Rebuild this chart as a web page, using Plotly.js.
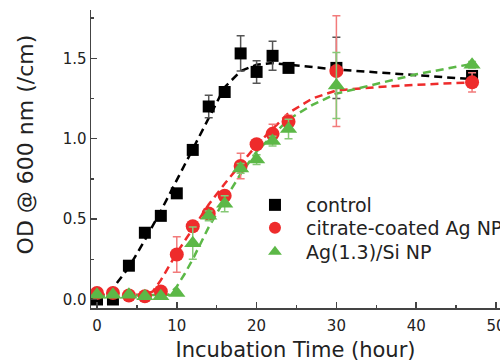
<!DOCTYPE html>
<html>
<head>
<meta charset="utf-8">
<script src="https://cdn.plot.ly/plotly-3.0.1.min.js"></script>
<style>html,body{margin:0;padding:0;background:#fff;}#chart{width:500px;height:362px;}</style>
</head>
<body>
<div id="chart"></div>
<script>
// Measured time points (hours)
const timeHours = [0, 2, 4, 6, 8, 10, 12, 14, 16, 18, 20, 22, 24, 30, 47];
// OD values
const controlOD = [0.0, 0.0, 0.21, 0.415, 0.52, 0.66, 0.93, 1.20, 1.29, 1.53, 1.415, 1.515, 1.44, 1.44, 1.39];
const controlErr = [0, 0, 0, 0, 0, 0, 0, 0.07, 0, 0.11, 0.07, 0.09, 0.02, 0.19, 0.03];
const citrateOD = [0.04, 0.04, 0.025, 0.02, 0.05, 0.28, 0.455, 0.535, 0.645, 0.83, 0.965, 1.03, 1.105, 1.42, 1.35];
const citrateErr = [0.02, 0.02, 0.02, 0.01, 0.02, 0.11, 0, 0.02, 0.02, 0.08, 0.02, 0.06, 0.04, 0.345, 0.06];
const agsiOD = [0.03, 0.03, 0.03, 0.02, 0.02, 0.04, 0.35, 0.52, 0.595, 0.815, 0.87, 0.985, 1.06, 1.33, 1.46];
const agsiErr = [0.01, 0.01, 0.01, 0.01, 0.01, 0.01, 0.1, 0.03, 0.05, 0.03, 0.03, 0.03, 0.06, 0.205, 0.02];

// Dashed fit curves
const controlFitX = [0, 2, 4, 6, 8, 10, 12, 14, 16, 18, 20, 22, 24, 30, 47];
const controlFitY = [0.0, 0.07, 0.2, 0.37, 0.55, 0.74, 0.93, 1.13, 1.32, 1.42, 1.46, 1.47, 1.46, 1.43, 1.37];
const citrateFitX = [0, 6, 7, 8, 10, 12, 14, 16, 18, 20, 22, 24, 27, 30, 35, 40, 47];
const citrateFitY = [0.03, 0.03, 0.05, 0.12, 0.29, 0.44, 0.59, 0.72, 0.84, 0.96, 1.06, 1.16, 1.25, 1.30, 1.32, 1.335, 1.35];
const agsiFitX = [0, 9, 10, 11, 12, 14, 16, 18, 20, 22, 24, 27, 30, 35, 40, 47];
const agsiFitY = [0.02, 0.03, 0.08, 0.16, 0.25, 0.45, 0.62, 0.78, 0.92, 1.02, 1.12, 1.21, 1.28, 1.34, 1.40, 1.465];

const seriesNames = ['control', 'citrate-coated Ag NP', 'Ag(1.3)/Si NP'];
const xTickVals = [0, 10, 20, 30, 40, 50];
const yTickVals = [0.0, 0.5, 1.0, 1.5];
const xTitle = 'Incubation Time (hour)';
const yTitle = 'OD @ 600 nm (/cm)';

const BLACK = '#000000', RED = '#ee2b2b', GREEN = '#5cb847';
const dash = '8px,5px';

function fit(x, y, c) {
  return {x: x, y: y, mode: 'lines', type: 'scatter', showlegend: false, hoverinfo: 'skip',
    line: {color: c, width: 2.5, dash: dash}};
}
function pts(name, y, err, c, sym, size, ec, lg) {
  return {x: timeHours, y: y, name: name, mode: 'markers', type: 'scatter', legend: lg,
    marker: {color: c, symbol: sym, size: size},
    error_y: {type: 'data', array: err, visible: true, color: ec, thickness: 1.5, width: 4}};
}

const data = [
  fit(controlFitX, controlFitY, BLACK),
  fit(citrateFitX, citrateFitY, RED),
  fit(agsiFitX, agsiFitY, GREEN),
  pts(seriesNames[0], controlOD, controlErr, BLACK, 'square', 12, '#555555', 'legend'),
  pts(seriesNames[1], citrateOD, citrateErr, RED, 'circle', 14, '#f27b7b', 'legend2'),
  pts(seriesNames[2], agsiOD, agsiErr, GREEN, 'triangle-up', 15, '#86c976', 'legend3')
];

const font = '"DejaVu Sans", "Liberation Sans", sans-serif';
function leg(y) {
  return {x: 0.374, y: y, xanchor: 'left', yanchor: 'middle', bgcolor: 'rgba(0,0,0,0)',
    font: {family: font, size: 19, color: '#222'}, itemwidth: 52, itemsizing: 'constant',
    borderwidth: 0};
}
const layout = {
  width: 500, height: 362,
  margin: {l: 91, r: 0, t: 10, b: 54, autoexpand: false},
  paper_bgcolor: '#fff', plot_bgcolor: '#fff',
  font: {family: font, color: '#222', size: 15},
  showlegend: true,
  legend: leg(0.3456),
  legend2: leg(0.2685),
  legend3: leg(0.188),
  xaxis: {
    range: [-0.75, 50.5], tickvals: xTickVals, ticks: 'inside', ticklen: 6, tickwidth: 1.5,
    tickcolor: '#444', showline: true, linecolor: '#444', linewidth: 1.5, showgrid: false, zeroline: false,
    minor: {dtick: 5, ticks: 'inside', ticklen: 3, tickcolor: '#444', showgrid: false},
    ticklabeloverflow: 'allow', ticklabelstandoff: 3,
    tickfont: {size: 15}, title: {text: xTitle, font: {size: 21}, standoff: 19}
  },
  yaxis: {
    range: [-0.053, 1.8], tickvals: yTickVals, tickformat: '.1f', ticks: 'inside', ticklen: 6, tickwidth: 1.5,
    tickcolor: '#444', showline: true, linecolor: '#444', linewidth: 1.5, showgrid: false, zeroline: false,
    minor: {dtick: 0.25, ticks: 'inside', ticklen: 3, tickcolor: '#444', showgrid: false},
    tickfont: {size: 15}
  },
  annotations: [{
    text: yTitle, xref: 'paper', yref: 'paper', x: -0.1614, y: 0.549,
    xanchor: 'center', yanchor: 'middle', textangle: -90, showarrow: false,
    font: {family: font, size: 22, color: '#222'}
  }]
};

Plotly.newPlot('chart', data, layout, {displayModeBar: false, staticPlot: true});
</script>
</body>
</html>
